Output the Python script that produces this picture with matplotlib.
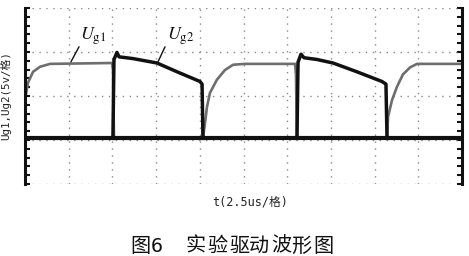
import matplotlib
matplotlib.use('Agg')
import matplotlib.pyplot as plt
import numpy as np

plt.rcParams['font.family'] = ['DejaVu Sans Mono', 'Noto Sans CJK SC']
plt.rcParams['mathtext.fontset'] = 'stix'

# time in us, voltage in V (5 V / div, 2.5 us / div)
t1 = [0, 0.17, 0.46, 0.86, 1.43, 4.98, 5.03, 5.09, 10.18, 10.30, 10.41, 10.58, 10.98, 11.44,
      11.9, 12.59, 15.45, 15.5, 15.56, 20.71, 20.77, 21.0, 21.28, 21.62, 22.03, 22.43, 25]
ug1 = [4.3, 6.25, 7.5, 8.07, 8.4, 8.5, 7.7, 0, 0, 1.7, 3.5, 5.1, 6.6, 7.7,
       8.3, 8.4, 8.4, 7.2, 0, 0, 2.4, 4.3, 5.8, 7.2, 8.0, 8.4, 8.4]

t2 = [0, 5.03, 5.09, 5.26, 5.38, 6.18, 7.55, 8.7, 10.01, 10.13, 10.18, 15.56, 15.62, 15.79,
      15.96, 16.7, 17.62, 18.99, 20.42, 20.65, 20.71, 25]
ug2 = [0, 0, 8.9, 9.7, 9.2, 9.0, 8.5, 7.5, 6.4, 6.1, 0, 0, 8.6, 9.5,
       9.1, 8.9, 8.5, 7.5, 6.4, 6.1, 0, 0]

ylab = 'Ug1,Ug2(5v/格)'
xlab = 't(2.5us/格)'
caption = ['图', '6', '实', '验', '驱', '动', '波', '形', '图']
caption_x = [140, 157, 196, 217.5, 239, 259, 281.5, 301.5, 323]

W, H = 469, 256
fig = plt.figure(figsize=(W / 100, H / 100), dpi=100)
ax = fig.add_axes([25 / W, 1 - 184 / H, (462 - 25) / W, (184 - 8) / H])

y0, y1 = -5.25, 14.75
ax.set_xlim(0, 25)
ax.set_ylim(y0, y1)

# grid
dot = dict(color='#8a8a8a', lw=1.0, linestyle=(0, (1, 4)))
for k in range(1, 10):
    ax.axvline(k * 2.5, **dot)
for k in range(0, 5):
    ax.axhline(y0 + 5 * k, **dot)

t1a = np.array(t1)
u1a = np.array(ug1)
ax.plot(t1a, u1a, color='#6e6e6e', lw=1.9, solid_joinstyle='round')
ax.plot(t2, ug2, color='#111111', lw=2.5, solid_joinstyle='round')
ax.plot(t1a, np.ma.masked_where(u1a > 0.5, u1a), color='#111111', lw=3.0)
ax.plot(t2, np.ma.masked_where(np.array(ug2) > 0.5, ug2), color='#111111', lw=3.0)

for s in ['top', 'bottom']:
    ax.spines[s].set_visible(False)
for s in ['left', 'right']:
    ax.spines[s].set_linewidth(2.2)
    ax.spines[s].set_color('#111111')

ax.set_yticks(np.arange(y0, y1 + 0.01, 1.0))
ax.set_xticks([])
ax.tick_params(axis='y', which='both', direction='in', length=3.5, width=1.5,
               left=True, right=True, labelleft=False, labelright=False, color='#111111')

# labels
fig.text(6 / W, 1 - 96 / H, ylab, rotation=90, ha='center', va='center', fontsize=7.8,
         color='#222222')
fig.text(250 / W, 1 - 202 / H, xlab, ha='center', va='center', fontsize=8.5,
         color='#222222')
for ch, cx in zip(caption, caption_x):
    fam = ['DejaVu Sans Mono'] if ch.isdigit() else ['Noto Sans CJK SC']
    fig.text(cx / W, 1 - 246 / H, ch, ha='center', va='center', fontsize=14.5,
             family=fam, color='#111111')

# curve annotations
ax.annotate('', xy=(2.63, 8.64), xytext=(3.09, 10.34),
            arrowprops=dict(arrowstyle='-', color='#111111', lw=1.0, shrinkA=0, shrinkB=0))
ax.text(3.15, 11.5, r'$U_{\rm g1}$', fontsize=13, ha='left', va='center', color='#111111')
ax.annotate('', xy=(7.61, 8.64), xytext=(8.01, 10.34),
            arrowprops=dict(arrowstyle='-', color='#111111', lw=1.0, shrinkA=0, shrinkB=0))
ax.text(8.12, 11.5, r'$U_{\rm g2}$', fontsize=13, ha='left', va='center', color='#111111')

fig.savefig('out.png', dpi=100)
